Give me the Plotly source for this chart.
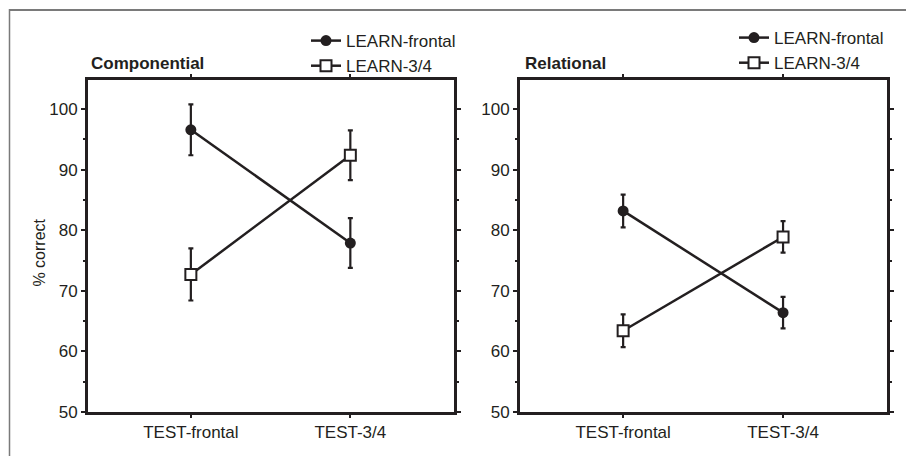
import plotly.graph_objects as go

categories = ["TEST-frontal", "TEST-3/4"]
series_names = ["LEARN-frontal", "LEARN-3/4"]
panel_titles = ["Componential", "Relational"]

comp_frontal = [96.6, 77.9]
comp_frontal_err = [4.2, 4.1]
comp_34 = [72.7, 92.4]
comp_34_err = [4.3, 4.1]

rel_frontal = [83.2, 66.4]
rel_frontal_err = [2.7, 2.6]
rel_34 = [63.4, 78.9]
rel_34_err = [2.7, 2.6]

y_ticks = [50, 60, 70, 80, 90, 100]
y_label = "% correct"

INK = "#231f20"
FONT = "Liberation Sans, Arial, Helvetica, sans-serif"
FS = 17
W, H = 906, 467   # rendered height; positions below are given as fractions of a 456-px frame
REF_H = 456

def px(x):
    return x / W

def py(y):
    return 1 - y / REF_H

fig = go.Figure()

panels = [
    (comp_frontal, comp_frontal_err, comp_34, comp_34_err, "x", "y", "legend"),
    (rel_frontal, rel_frontal_err, rel_34, rel_34_err, "x2", "y2", "legend2"),
]

for vf, ef, v3, e3, xa, ya, lg in panels:
    fig.add_trace(go.Scatter(
        x=categories, y=vf, name=series_names[0], mode="lines+markers",
        line=dict(color=INK, width=2.5),
        marker=dict(symbol="circle", size=11, color=INK),
        error_y=dict(type="data", array=ef, visible=True, color=INK, thickness=2.2, width=2.5),
        xaxis=xa, yaxis=ya, legend=lg,
    ))
    fig.add_trace(go.Scatter(
        x=categories, y=v3, name=series_names[1], mode="lines+markers",
        line=dict(color=INK, width=2.5),
        marker=dict(symbol="square", size=11, color="white", line=dict(color=INK, width=2)),
        error_y=dict(type="data", array=e3, visible=True, color=INK, thickness=2.2, width=2.5),
        xaxis=xa, yaxis=ya, legend=lg,
    ))

xcommon = dict(
    type="category", range=[-0.645, 1.65], showline=True, linecolor=INK, linewidth=3,
    mirror="ticks", ticks="outside", ticklen=3, tickwidth=2, tickcolor=INK,
    showgrid=False, zeroline=False, tickfont=dict(family=FONT, size=FS, color=INK),
)
ycommon = dict(
    range=[50, 104.8], tickvals=y_ticks, showline=True, linecolor=INK, linewidth=3,
    mirror="ticks", ticks="outside", ticklen=4, tickwidth=2, tickcolor=INK,
    showgrid=False, zeroline=False, tickfont=dict(family=FONT, size=FS, color=INK),
    minor=dict(dtick=5, ticks="outside", ticklen=2, tickwidth=2, tickcolor=INK),
)
ydom = [py(411), py(80)]

fig.update_layout(
    width=W, height=H, margin=dict(l=0, r=0, t=0, b=0),
    paper_bgcolor="white", plot_bgcolor="white",
    font=dict(family=FONT, size=FS, color=INK),
    xaxis=dict(domain=[px(88), px(454)], anchor="y", **xcommon),
    yaxis=dict(domain=ydom, anchor="x", **ycommon),
    xaxis2=dict(domain=[px(520), px(887)], anchor="y2", **xcommon),
    yaxis2=dict(domain=ydom, anchor="x2", **ycommon),
    legend=dict(x=px(306), y=py(23), xanchor="left", yanchor="top",
                font=dict(family=FONT, size=FS, color=INK), bgcolor="rgba(0,0,0,0)",
                tracegroupgap=0, itemwidth=30),
    legend2=dict(x=px(734), y=py(20), xanchor="left", yanchor="top",
                 font=dict(family=FONT, size=FS, color=INK), bgcolor="rgba(0,0,0,0)",
                 tracegroupgap=0, itemwidth=30),
    showlegend=True,
)

fig.add_annotation(text="<b>" + panel_titles[0] + "</b>", x=px(89), y=py(63), xref="paper", yref="paper",
                   xanchor="left", yanchor="middle", showarrow=False,
                   font=dict(family=FONT, size=FS, color=INK))
fig.add_annotation(text="<b>" + panel_titles[1] + "</b>", x=px(523), y=py(63), xref="paper", yref="paper",
                   xanchor="left", yanchor="middle", showarrow=False,
                   font=dict(family=FONT, size=FS, color=INK))
fig.add_annotation(text=y_label, x=px(40), y=py(252), xref="paper", yref="paper",
                   xanchor="center", yanchor="middle", showarrow=False, textangle=-90,
                   font=dict(family=FONT, size=16, color=INK))

# outer frame (top and left edges)
fig.add_shape(type="line", xref="paper", yref="paper", x0=px(9), x1=1, y0=py(10), y1=py(10),
              line=dict(color="#7a7a7a", width=2))
fig.add_shape(type="line", xref="paper", yref="paper", x0=px(9.5), x1=px(9.5), y0=py(9), y1=0,
              line=dict(color="#7a7a7a", width=1.5))

post = (
    "var de=document.documentElement, b=document.body;"
    "de.style.margin='0';de.style.padding='0';de.style.overflow='hidden';"
    "b.style.margin='0';b.style.padding='0';b.style.overflow='hidden';"
    "var d=document.getElementById('{plot_id}');"
    "d.style.position='absolute';d.style.left='0px';d.style.top='0px';"
    "window.scrollTo(0,0);"
)

fig.write_html("out.html", post_script=post, config={"displayModeBar": False})
